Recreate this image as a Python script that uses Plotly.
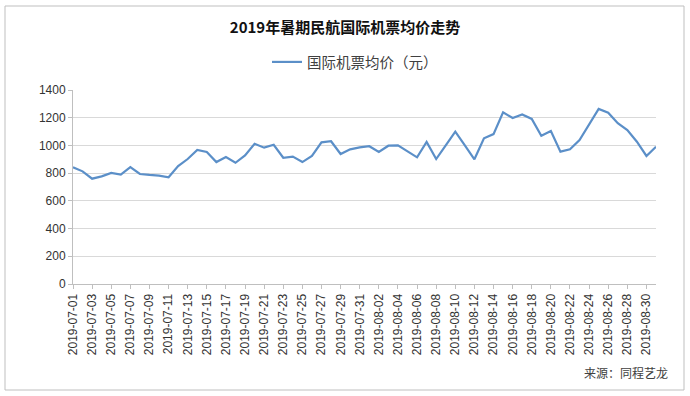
import plotly.graph_objects as go

dates = [f"2019-07-{d:02d}" for d in range(1, 32)] + [f"2019-08-{d:02d}" for d in range(1, 32)]

prices_july = [842, 813, 760, 777, 801, 789, 844, 794, 787, 782, 770, 851, 902, 967, 953, 880,
               916, 875, 928, 1012, 984, 1005, 911, 919, 880, 924, 1022, 1030, 938, 972, 986]
prices_aug = [994, 953, 998, 1001, 955, 914, 1025, 902, 1000, 1099, 1001, 900, 1051, 1082, 1239, 1198,
              1224, 1191, 1070, 1104, 955, 972, 1039, 1152, 1263, 1236, 1160, 1111, 1027, 924, 991]
prices = prices_july + prices_aug

tick_labels = dates[::2]
y_ticks = [0, 200, 400, 600, 800, 1000, 1200, 1400]

title_text = "2019年暑期民航国际机票均价走势"
series_name = "国际机票均价（元）"
source_text = "来源：同程艺龙"

FONT = "Arial, 'Liberation Sans', 'Noto Sans CJK SC', sans-serif"
CJK = "'Microsoft YaHei', 'Noto Sans CJK SC', sans-serif"

fig = go.Figure()
fig.add_trace(go.Scatter(
    x=dates, y=prices, mode="lines", name=series_name,
    line=dict(color="#5b8fc8", width=2.2),
))

W, H = 690, 396
L, R, T, B = 73, 34, 90, 112
pw, ph = W - L - R, H - T - B

def px_x(x):
    return (x - L) / pw

def px_y(y):
    return (H - B - y) / ph

fig.update_layout(
    width=W, height=H,
    margin=dict(l=L, r=R, t=T, b=B, autoexpand=False),
    paper_bgcolor="white", plot_bgcolor="white",
    font=dict(family=FONT, size=12, color="#333333"),
    title=dict(text=f"<b>{title_text}</b>", x=0.5, xanchor="center",
               y=1 - 28 / H, yanchor="middle", yref="container",
               font=dict(family=CJK, size=15, color="#111111")),
    showlegend=True,
    legend=dict(orientation="h", x=0.5 + 10 / W, xanchor="center", xref="container",
                y=1 - 62 / H, yanchor="middle", yref="container",
                font=dict(family=CJK, size=14.5, color="#404040"),
                itemwidth=30, bgcolor="rgba(0,0,0,0)"),
    xaxis=dict(type="category", range=[0, len(dates) - 1], automargin=False,
               tickmode="array", tickvals=tick_labels, ticktext=tick_labels,
               tickangle=-90, ticks="outside", ticklen=4, tickcolor="#bfbfbf",
               showline=True, linecolor="#bfbfbf", linewidth=1,
               showgrid=False, zeroline=False,
               tickfont=dict(size=12, color="#333333")),
    yaxis=dict(range=[0, 1400], tickmode="array", tickvals=y_ticks, automargin=False,
               ticks="outside", ticklen=4, tickcolor="#bfbfbf",
               showline=True, linecolor="#bfbfbf", linewidth=1,
               showgrid=True, gridcolor="#d9d9d9", gridwidth=1, zeroline=False,
               tickfont=dict(size=12, color="#333333")),
    shapes=[dict(type="rect", xref="paper", yref="paper",
                 x0=px_x(5), x1=px_x(684), y0=px_y(390), y1=px_y(6),
                 line=dict(color="#bfbfbf", width=1), fillcolor="rgba(0,0,0,0)",
                 layer="below")],
    annotations=[dict(text=source_text, xref="paper", yref="paper",
                      x=px_x(670), y=px_y(372), xanchor="right", yanchor="middle",
                      showarrow=False, font=dict(family=CJK, size=12, color="#404040"))],
)

fig.write_html("out.html",
               config={"displayModeBar": False},
               post_script="document.body.style.margin='0';document.body.style.padding='0';"
                           "document.body.style.overflow='hidden';")
